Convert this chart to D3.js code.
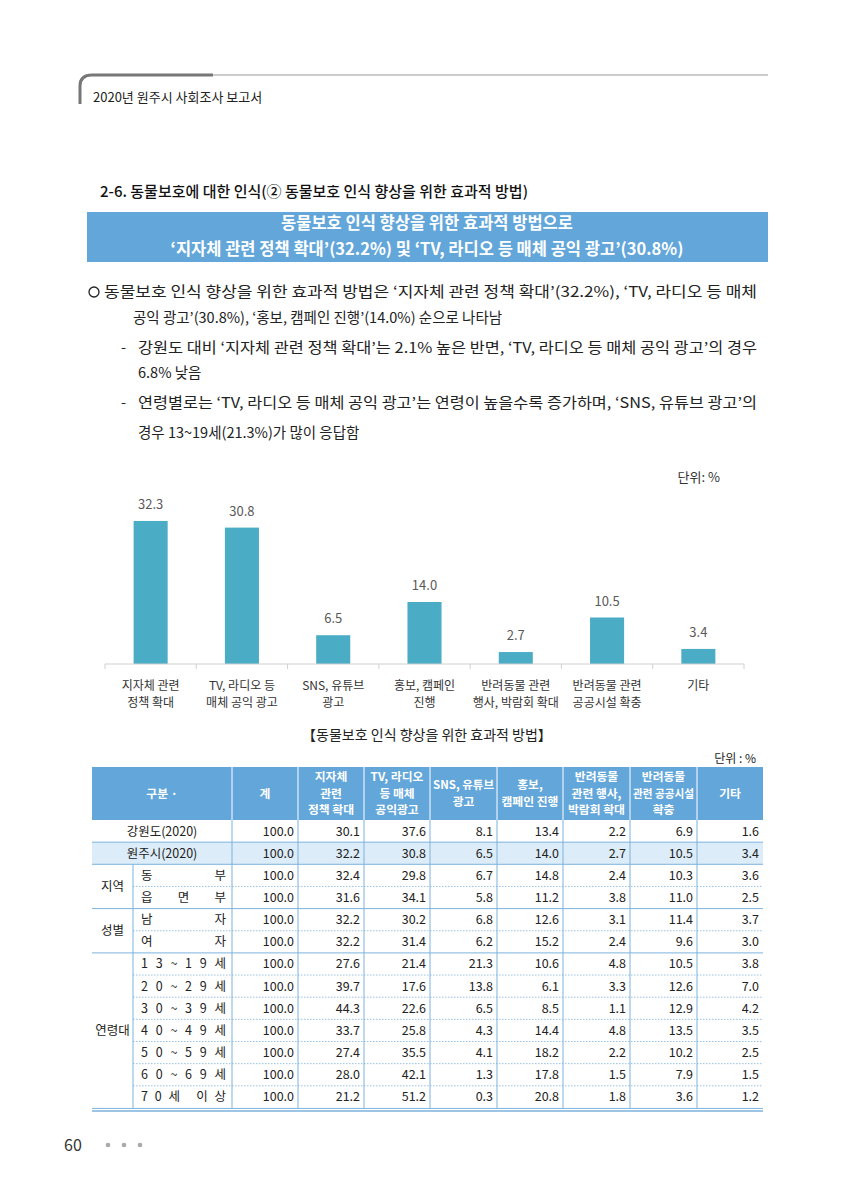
<!DOCTYPE html>
<html><head><meta charset="utf-8">
<script src="https://cdn.jsdelivr.net/npm/d3@7"></script>
<style>body{margin:0;background:#fff}svg{display:block}text{font-family:"Noto Sans CJK KR","Noto Sans",sans-serif}</style>
</head><body><svg id="c" width="848" height="1200"></svg>
<script>
// ---------- data ----------
const categories = ["지자체 관련\n정책 확대","TV, 라디오 등\n매체 공익 광고","SNS, 유튜브\n광고","홍보, 캠페인\n진행","반려동물 관련\n행사, 박람회 확대","반려동물 관련\n공공시설 확충","기타"];
const values = [32.3, 30.8, 6.5, 14.0, 2.7, 10.5, 3.4];

const tableHeaders = [["구분 ·"],["계"],["지자체","관련","정책 확대"],["TV, 라디오","등 매체","공익광고"],["SNS, 유튜브","광고"],["홍보,","캠페인 진행"],["반려동물","관련 행사,","박람회 확대"],["반려동물","관련 공공시설","확충"],["기타"]];
const rowGroups = ["", "", "지역", "", "성별", "", "연령대", "", "", "", "", "", ""];
const rowLabels = ["강원도(2020)","원주시(2020)","동부","읍면부","남자","여자","13~19세","20~29세","30~39세","40~49세","50~59세","60~69세","70세 이상"];
const rowTotal = [100.0,100.0,100.0,100.0,100.0,100.0,100.0,100.0,100.0,100.0,100.0,100.0,100.0];
const colPolicy = [30.1,32.2,32.4,31.6,32.2,32.2,27.6,39.7,44.3,33.7,27.4,28.0,21.2];
const colTV = [37.6,30.8,29.8,34.1,30.2,31.4,21.4,17.6,22.6,25.8,35.5,42.1,51.2];
const colSNS = [8.1,6.5,6.7,5.8,6.8,6.2,21.3,13.8,6.5,4.3,4.1,1.3,0.3];
const colPromo = [13.4,14.0,14.8,11.2,12.6,15.2,10.6,6.1,8.5,14.4,18.2,17.8,20.8];
const colEvent = [2.2,2.7,2.4,3.8,3.1,2.4,4.8,3.3,1.1,4.8,2.2,1.5,1.8];
const colFacility = [6.9,10.5,10.3,11.0,11.4,9.6,10.5,12.6,12.9,13.5,10.2,7.9,3.6];
const colOther = [1.6,3.4,3.6,2.5,3.7,3.0,3.8,7.0,4.2,3.5,2.5,1.5,1.2];

// ---------- drawing ----------
const svg = d3.select("#c");
const BLUE = "#62a6da", LINE = "#7db3de", LIGHT = "#dcecf8";

// page header
svg.append("path").attr("d","M80,104 L80,86 Q80,75 92,75 L213,75").attr("fill","none").attr("stroke","#777").attr("stroke-width",3);
svg.append("line").attr("x1",213).attr("x2",768).attr("y1",75).attr("y2",75).attr("stroke","#bbb").attr("stroke-width",1.5);
svg.append("text").attr("x",93).attr("y",102).attr("font-size",13).attr("fill","#222").text("2020년 원주시 사회조사 보고서");

// section title
svg.append("text").attr("x",100).attr("y",197).attr("font-size",15).attr("font-weight",500).attr("fill","#111")
  .text("2-6. 동물보호에 대한 인식(② 동물보호 인식 향상을 위한 효과적 방법)");

// blue box
svg.append("rect").attr("x",87).attr("y",212).attr("width",681).attr("height",50).attr("fill",BLUE);
svg.append("text").attr("x",427).attr("y",229).attr("text-anchor","middle").attr("font-size",16.5).attr("font-weight",700).attr("fill","#fff").text("동물보호 인식 향상을 위한 효과적 방법으로");
svg.append("text").attr("x",427).attr("y",255).attr("text-anchor","middle").attr("font-size",16.5).attr("font-weight",700).attr("fill","#fff").text("‘지자체 관련 정책 확대’(32.2%) 및 ‘TV, 라디오 등 매체 공익 광고’(30.8%)");

// body text
const body = [
  {x:104, y:297, t:"동물보호 인식 향상을 위한 효과적 방법은 ‘지자체 관련 정책 확대’(32.2%), ‘TV, 라디오 등 매체", w:653},
  {x:133, y:323, t:"공익 광고’(30.8%), ‘홍보, 캠페인 진행’(14.0%) 순으로 나타남"},
  {x:138, y:353, t:"강원도 대비 ‘지자체 관련 정책 확대’는 2.1% 높은 반면, ‘TV, 라디오 등 매체 공익 광고’의 경우", w:619},
  {x:138, y:378, t:"6.8% 낮음"},
  {x:138, y:408, t:"연령별로는 ‘TV, 라디오 등 매체 공익 광고’는 연령이 높을수록 증가하며, ‘SNS, 유튜브 광고’의", w:619},
  {x:138, y:438, t:"경우 13~19세(21.3%)가 많이 응답함"}
];
body.forEach(b=>{
  const t = svg.append("text").attr("x",b.x).attr("y",b.y).attr("font-size",14.5).attr("fill","#222").text(b.t);
  if(b.w) t.attr("textLength",b.w).attr("lengthAdjust","spacingAndGlyphs");
});
svg.append("circle").attr("cx",94).attr("cy",292).attr("r",5).attr("fill","none").attr("stroke","#222").attr("stroke-width",1.3);
svg.append("text").attr("x",121).attr("y",353).attr("font-size",14.5).attr("fill","#222").text("-");
svg.append("text").attr("x",121).attr("y",408).attr("font-size",14.5).attr("fill","#222").text("-");

// ---------- bar chart ----------
svg.append("text").attr("x",720).attr("y",482).attr("font-size",13).attr("text-anchor","end").attr("fill","#333").text("단위: %");
const x = d3.scaleBand().domain(categories).range([105,744]).paddingInner(0.627).paddingOuter(0.3135);
const y = d3.scaleLinear().domain([0,35]).range([664,509]);
const g = svg.append("g");
g.selectAll("rect.bar").data(values).join("rect").attr("class","bar")
  .attr("x",(d,i)=>x(categories[i])).attr("width",x.bandwidth())
  .attr("y",d=>y(d)).attr("height",d=>y(0)-y(d)).attr("fill","#4bacc6");
g.selectAll("text.val").data(values).join("text").attr("class","val")
  .attr("x",(d,i)=>x(categories[i])+x.bandwidth()/2).attr("y",d=>y(d)-12)
  .attr("text-anchor","middle").attr("font-size",13).attr("fill","#595959").text(d=>d.toFixed(1));
// axis
const axisG = svg.append("g").attr("transform","translate(0,664)");
axisG.call(d3.axisBottom(x).tickSize(0).tickFormat(""));
axisG.select(".domain").attr("stroke","#d0d0d0").attr("d","M105,0H744");
const bounds = d3.range(categories.length+1).map(i=>105+i*x.step());
axisG.selectAll("line.tk").data(bounds).join("line").attr("class","tk")
  .attr("x1",d=>d).attr("x2",d=>d).attr("y1",0).attr("y2",5).attr("stroke","#d0d0d0");
categories.forEach((c,i)=>{
  const cx = x(c)+x.bandwidth()/2;
  const t = svg.append("text").attr("x",cx).attr("y",690).attr("text-anchor","middle")
      .attr("font-size",12).attr("fill","#333");
  c.split("\n").forEach((l,j)=>{
    t.append("tspan").attr("x",cx).attr("dy",j===0?0:16.8).text(l);
  });
});

// ---------- table ----------
svg.append("text").attr("x",427).attr("y",740).attr("text-anchor","middle").attr("font-size",14).attr("fill","#222").text("【동물보호 인식 향상을 위한 효과적 방법】");
svg.append("text").attr("x",756).attr("y",763).attr("text-anchor","end").attr("font-size",12).attr("fill","#222").text("단위 : %");

const colX = [92,232,298,364,430,497,563,630,697,763];
const headTop = 767, headBot = 820, rowH = 22.15;
const rowTop = i => headBot + i*rowH;
svg.append("rect").attr("x",92).attr("y",headTop).attr("width",671).attr("height",headBot-headTop).attr("fill",BLUE);
colX.slice(1,-1).forEach(cx=>svg.append("line").attr("x1",cx).attr("x2",cx).attr("y1",headTop).attr("y2",headBot).attr("stroke","#fff").attr("stroke-width",1));
const HL = 16.5;
tableHeaders.forEach((h,i)=>{
  const cx = (colX[i]+colX[i+1])/2, n=h.length, avail = colX[i+1]-colX[i]-6;
  const t = svg.append("text").attr("x",cx).attr("y",(headTop+headBot)/2 - (n-1)/2*HL + 4.2)
      .attr("text-anchor","middle").attr("font-size",11.8).attr("font-weight",700).attr("fill","#fff");
  h.forEach((l,j)=>{
    const ts = t.append("tspan").attr("x",cx).attr("dy",j===0?0:HL).text(l);
    const w = ts.node().getComputedTextLength();
    if(w>avail) ts.attr("textLength",avail).attr("lengthAdjust","spacingAndGlyphs");
  });
});
// highlighted row
svg.append("rect").attr("x",92).attr("y",rowTop(1)).attr("width",671).attr("height",rowH).attr("fill",LIGHT);
// horizontal lines
const nRows = rowLabels.length;
for(let i=1;i<nRows;i++){
  const yy = rowTop(i);
  const solid = [1,2,4,6].includes(i);
  svg.append("line").attr("x1",solid?92:133).attr("x2",763).attr("y1",yy).attr("y2",yy)
    .attr("stroke",LINE).attr("stroke-width",solid?1:0.8).attr("stroke-dasharray",solid?null:"1.5,1.5");
}
// bottom double line
svg.append("line").attr("x1",92).attr("x2",763).attr("y1",rowTop(nRows)+0.5).attr("y2",rowTop(nRows)+0.5).attr("stroke",LINE).attr("stroke-width",1);
svg.append("line").attr("x1",92).attr("x2",763).attr("y1",rowTop(nRows)+3).attr("y2",rowTop(nRows)+3).attr("stroke",LINE).attr("stroke-width",1.5);
// vertical lines
colX.slice(1,-1).forEach(cx=>svg.append("line").attr("x1",cx).attr("x2",cx).attr("y1",headBot).attr("y2",rowTop(nRows)).attr("stroke",LINE).attr("stroke-width",1));
svg.append("line").attr("x1",133).attr("x2",133).attr("y1",rowTop(2)).attr("y2",rowTop(nRows)).attr("stroke",LINE).attr("stroke-width",1);

// group labels (spans run until next group name)
rowGroups.forEach((gname,i)=>{
  if(!gname) return;
  let end = i+1;
  while(end<nRows && !rowGroups[end]) end++;
  if(gname!=="연령대") end = Math.min(end, i+2);
  svg.append("text").attr("x",112.5).attr("y",(rowTop(i)+rowTop(end))/2+4.5).attr("text-anchor","middle")
    .attr("font-size",12.5).attr("fill","#222").text(gname);
});
const cols = [rowTotal,colPolicy,colTV,colSNS,colPromo,colEvent,colFacility,colOther];
rowLabels.forEach((lab,i)=>{
  const by = rowTop(i)+rowH/2+4.5;
  if(i<2){
    svg.append("text").attr("x",162).attr("y",by).attr("text-anchor","middle").attr("font-size",12.5).attr("fill","#222").text(lab);
  } else {
    svg.append("text").attr("x",141).attr("y",by).attr("font-size",12.5).attr("fill","#222").text(lab)
      .attr("textLength",85).attr("lengthAdjust","spacing");
  }
  cols.forEach((col,k)=>{
    svg.append("text").attr("x",colX[k+2]-4).attr("y",by).attr("text-anchor","end").attr("font-size",12.5).attr("fill","#222").text(col[i].toFixed(1));
  });
});

// footer
svg.append("text").attr("x",64).attr("y",1151).attr("font-size",16).attr("fill","#333").text("60");
[108,124,140].forEach(cx=>svg.append("circle").attr("cx",cx).attr("cy",1145).attr("r",2.3).attr("fill","#aaa"));
</script></body></html>
